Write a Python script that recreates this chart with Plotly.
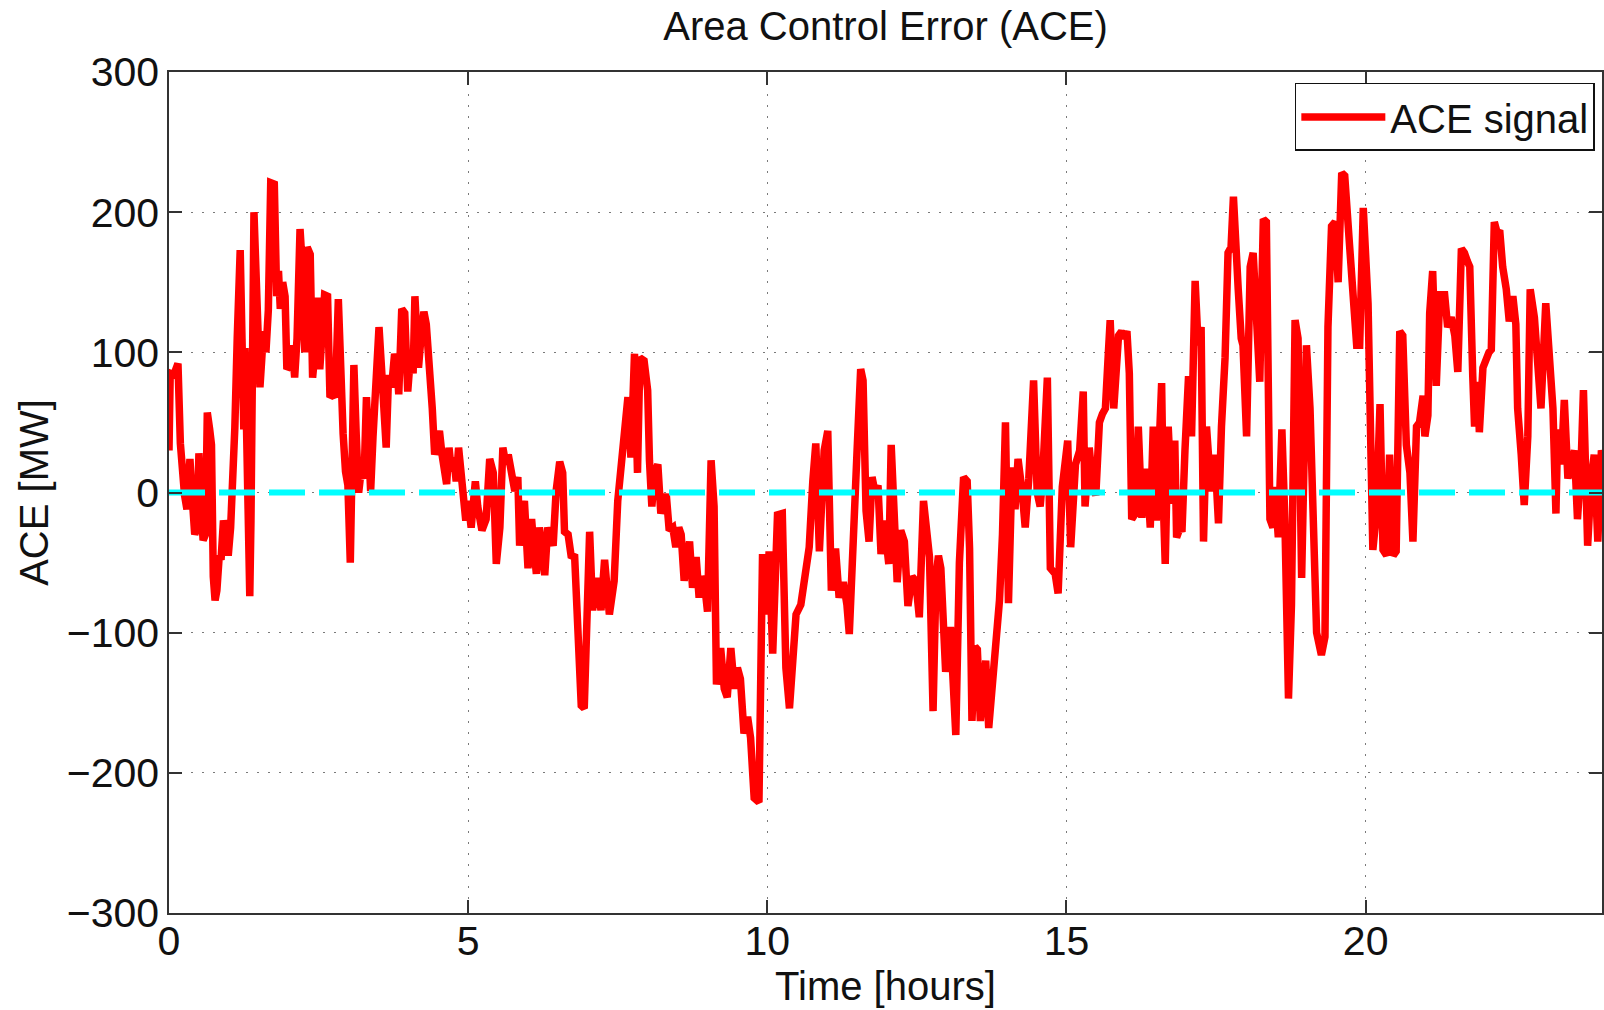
import plotly.graph_objects as go

# ---- data ----
time_h = [
    0.00, 0.02, 0.08, 0.15, 0.19, 0.22, 0.26, 0.30, 0.33, 0.35, 0.39, 0.43, 0.47, 0.50, 0.53, 0.57,
    0.61, 0.64, 0.68, 0.71, 0.74, 0.77, 0.80, 0.84, 0.87, 0.91, 0.95, 0.99, 1.03, 1.07, 1.10, 1.14,
    1.19, 1.22, 1.25, 1.27, 1.30, 1.33, 1.35, 1.37, 1.39, 1.42, 1.46, 1.50, 1.52, 1.55, 1.58, 1.62,
    1.66, 1.70, 1.76, 1.80, 1.83, 1.86, 1.90, 1.94, 1.97, 2.01, 2.06, 2.10, 2.14, 2.19, 2.23, 2.27,
    2.31, 2.36, 2.40, 2.44, 2.48, 2.52, 2.56, 2.60, 2.65, 2.69, 2.74, 2.78, 2.83, 2.87, 2.91, 2.95,
    2.99, 3.03, 3.06, 3.09, 3.13, 3.17, 3.21, 3.26, 3.30, 3.34, 3.37, 3.41, 3.46, 3.51, 3.55, 3.59,
    3.63, 3.67, 3.72, 3.77, 3.81, 3.84, 3.89, 3.94, 3.99, 4.04, 4.08, 4.11, 4.14, 4.17, 4.21, 4.26,
    4.30, 4.33, 4.36, 4.40, 4.44, 4.48, 4.52, 4.56, 4.60, 4.64, 4.68, 4.72, 4.76, 4.80, 4.84, 4.88,
    4.92, 4.96, 5.00, 5.05, 5.12, 5.16, 5.23, 5.30, 5.36, 5.42, 5.47, 5.53, 5.58, 5.63, 5.67, 5.72,
    5.78, 5.83, 5.86, 5.90, 5.94, 6.00, 6.06, 6.10, 6.14, 6.19, 6.24, 6.28, 6.33, 6.38, 6.42, 6.47,
    6.53, 6.58, 6.61, 6.67, 6.72, 6.78, 6.83, 6.89, 6.94, 6.99, 7.03, 7.08, 7.14, 7.22, 7.28, 7.36,
    7.44, 7.50, 7.56, 7.61, 7.67, 7.72, 7.78, 7.83, 7.87, 7.94, 8.00, 8.03, 8.07, 8.12, 8.17, 8.22,
    8.27, 8.31, 8.36, 8.42, 8.47, 8.52, 8.56, 8.61, 8.66, 8.70, 8.75, 8.81, 8.86, 8.90, 8.95, 9.00,
    9.06, 9.11, 9.15, 9.22, 9.28, 9.33, 9.39, 9.45, 9.50, 9.55, 9.61, 9.67, 9.72, 9.78, 9.86, 9.92,
    9.97, 10.03, 10.09, 10.17, 10.25, 10.31, 10.37, 10.42, 10.48, 10.56, 10.64, 10.70, 10.76, 10.81, 10.87, 10.95,
    11.01, 11.07, 11.14, 11.20, 11.27, 11.33, 11.37, 11.42, 11.45, 11.50, 11.56, 11.60, 11.65, 11.70, 11.75, 11.80,
    11.85, 11.90, 11.95, 12.03, 12.07, 12.12, 12.17, 12.23, 12.29, 12.35, 12.42, 12.48, 12.54, 12.61, 12.66, 12.71,
    12.77, 12.82, 12.86, 12.90, 12.98, 13.06, 13.15, 13.21, 13.28, 13.34, 13.38, 13.42, 13.47, 13.51, 13.56, 13.61,
    13.65, 13.70, 13.76, 13.82, 13.88, 13.93, 13.98, 14.03, 14.09, 14.14, 14.19, 14.26, 14.31, 14.37, 14.45, 14.51,
    14.56, 14.60, 14.68, 14.73, 14.81, 14.86, 14.93, 15.02, 15.07, 15.15, 15.22, 15.28, 15.31, 15.38, 15.44, 15.49,
    15.55, 15.60, 15.65, 15.70, 15.73, 15.79, 15.84, 15.87, 15.92, 15.96, 16.01, 16.05, 16.09, 16.15, 16.20, 16.26,
    16.30, 16.34, 16.40, 16.45, 16.50, 16.54, 16.59, 16.62, 16.65, 16.70, 16.76, 16.81, 16.84, 16.90, 16.93, 16.98,
    17.04, 17.09, 17.15, 17.20, 17.25, 17.29, 17.34, 17.40, 17.43, 17.48, 17.54, 17.59, 17.65, 17.70, 17.75, 17.79,
    17.84, 17.87, 17.92, 17.95, 18.01, 18.07, 18.12, 18.18, 18.23, 18.29, 18.34, 18.40, 18.45, 18.48, 18.54, 18.60,
    18.65, 18.71, 18.76, 18.82, 18.87, 18.93, 18.98, 19.01, 19.07, 19.12, 19.18, 19.26, 19.32, 19.37, 19.43, 19.49,
    19.54, 19.60, 19.65, 19.73, 19.79, 19.85, 19.90, 19.96, 20.04, 20.10, 20.12, 20.18, 20.24, 20.29, 20.35, 20.40,
    20.46, 20.51, 20.57, 20.62, 20.68, 20.74, 20.79, 20.85, 20.90, 20.96, 20.99, 21.04, 21.07, 21.12, 21.18, 21.24,
    21.32, 21.37, 21.43, 21.49, 21.54, 21.60, 21.65, 21.70, 21.74, 21.79, 21.82, 21.87, 21.90, 21.96, 22.01, 22.06,
    22.10, 22.15, 22.20, 22.24, 22.29, 22.35, 22.40, 22.46, 22.51, 22.54, 22.60, 22.65, 22.71, 22.75, 22.82, 22.88,
    22.93, 23.01, 23.07, 23.13, 23.18, 23.21, 23.27, 23.32, 23.38, 23.43, 23.49, 23.54, 23.60, 23.64, 23.71, 23.77,
    23.82, 23.88, 23.94, 24.00,
]

ace_mw = [
    30, 85, 84, 92, 35, 10, -2, -12, 5, 24, -5, -30, -25, 28, -5, -34,
    -30, 57, 45, 34, -60, -77, -70, -45, -48, -20, -28, -45, -25, 5, 46, 110,
    173, 110, 45, 103, 40, -40, -74, -20, 110, 200, 150, 90, 75, 95, 115, 100,
    130, 221, 220, 140, 158, 131, 150, 140, 88, 90, 105, 82, 110, 188, 160, 100,
    175, 170, 82, 100, 139, 88, 110, 141, 140, 68, 70, 68, 138, 66, 42, 15,
    5, -50, 20, 91, 40, 0, 15, 10, 68, 30, 1, 40, 70, 118, 90, 60,
    32, 84, 75, 99, 90, 70, 131, 128, 72, 100, 85, 140, 110, 89, 110, 129,
    120, 94, 88, 60, 27, 35, 44, 28, 20, 6, 32, 15, 25, 8, 32, 10,
    -5, -20, -6, -25, 8, -10, -27, -19, 24, 14, -51, -25, 32, 20, 27, 14,
    1, 11, -38, -15, -6, -54, -19, -40, -58, -25, -45, -59, -25, -35, -38, 1,
    22, 14, -28, -30, -45, -46, -100, -152, -154, -51, -28, -84, -61, -84, -48, -87,
    -63, -6, 20, 46, 68, 25, 99, 14, 96, 94, 73, 23, -10, 15, 20, -15,
    -5, -1, -27, -25, -39, -25, -30, -63, -45, -35, -68, -46, -75, -60, -65, -85,
    23, -10, -137, -111, -140, -146, -111, -140, -125, -133, -172, -160, -175, -218, -221, -44,
    -87, -42, -115, -16, -15, -125, -154, -130, -87, -80, -60, -39, 8, 35, -42, 30,
    44, -70, -40, -75, -64, -80, -101, -60, -17, 30, 88, 80, -13, -35, 11, 0,
    5, -44, -20, -51, 34, -30, -64, -27, -35, -81, -60, -63, -89, -6, -30, -46,
    -156, -60, -45, -54, -128, -96, -173, -50, 11, 8, -40, -163, -110, -112, -163, -130,
    -120, -168, -140, -100, -77, -30, 50, -79, 18, -12, 24, 0, -25, 10, 80, 0,
    -10, 10, 82, -54, -58, -72, 4, 37, -39, 20, 30, 72, -10, 32, 5, -2,
    50, 56, 60, 100, 123, 60, 90, 112, 115, 110, 115, 85, -19, -15, 47, -18,
    5, 17, -25, 47, -20, 46, 78, -10, -51, 47, -8, 37, -32, -25, -28, 30,
    83, 40, 151, 105, 118, -35, 47, 10, 1, 27, -22, 47, 96, 171, 175, 211,
    150, 145, 110, 105, 40, 161, 171, 105, 79, 195, 193, -19, -25, 4, -32, 45,
    -20, -147, -80, 123, 110, -61, 40, 105, 60, -35, -100, -116, -103, 118, 190, 193,
    150, 228, 226, 177, 131, 105, 105, 203, 135, 14, -41, -15, 63, -41, -45, 27,
    -45, -42, 115, 112, 34, 14, -35, 47, 50, 69, 40, 55, 128, 158, 76, 141,
    141, 118, 125, 112, 86, 174, 171, 165, 161, 83, 47, 79, 43, 89, 96, 100,
    102, 193, 185, 187, 161, 145, 122, 140, 120, 60, 27, -9, 40, 145, 125, 79,
    60, 135, 86, 60, -15, 45, 20, 66, 10, 20, 30, -19, 20, 73, -38, 10,
    27, -35, 30, 20,
]

zero_x = [0, 24]
zero_y = [0, 0]

x_ticks = [0, 5, 10, 15, 20]
y_ticks = [-300, -200, -100, 0, 100, 200, 300]

FONT = "Liberation Sans, Arial, sans-serif"

fig = go.Figure()
fig.add_trace(go.Scatter(
    x=time_h, y=ace_mw, mode="lines", name="ACE signal",
    line=dict(color="#ff0000", width=7.5),
))
fig.add_trace(go.Scatter(
    x=zero_x, y=zero_y, mode="lines", showlegend=False,
    line=dict(color="#00ffff", width=6, dash="36px,14px"),
))

axis_common = dict(
    showline=True, linecolor="#333333", linewidth=1.5, mirror="ticks",
    ticks="inside", ticklen=13, tickwidth=1.5, tickcolor="#333333",
    showgrid=True, gridcolor="#7a7a7a", gridwidth=1, griddash="2px,9px",
    zeroline=False, tickfont=dict(family=FONT, size=41, color="#111111"),
)

fig.update_layout(
    width=1604, height=1010,
    margin=dict(l=169, r=0, t=72, b=97),
    paper_bgcolor="white", plot_bgcolor="white",
    font=dict(family=FONT, size=40, color="#111111"),
    title=dict(text="Area Control Error (ACE)", x=0.5, xref="paper", xanchor="center",
               y=1 - 26 / 1010, yref="container", yanchor="middle",
               font=dict(family=FONT, size=40, color="#111111")),
    xaxis=dict(range=[0, 23.95], tickvals=x_ticks, ticklabelstandoff=-9,
               title=dict(text="Time [hours]", standoff=4,
                          font=dict(family=FONT, size=40, color="#111111")),
               **axis_common),
    yaxis=dict(range=[-300, 300], tickvals=y_ticks,
               title=dict(text="ACE [MW]", standoff=6,
                          font=dict(family=FONT, size=40, color="#111111")),
               **axis_common),
    legend=dict(x=0.995, y=0.987, xanchor="right", yanchor="top",
                bgcolor="white", bordercolor="#111111", borderwidth=1.5,
                font=dict(family=FONT, size=40, color="#111111"),
                itemwidth=84, tracegroupgap=0),
    showlegend=True,
)

fig.write_html("out.html")
